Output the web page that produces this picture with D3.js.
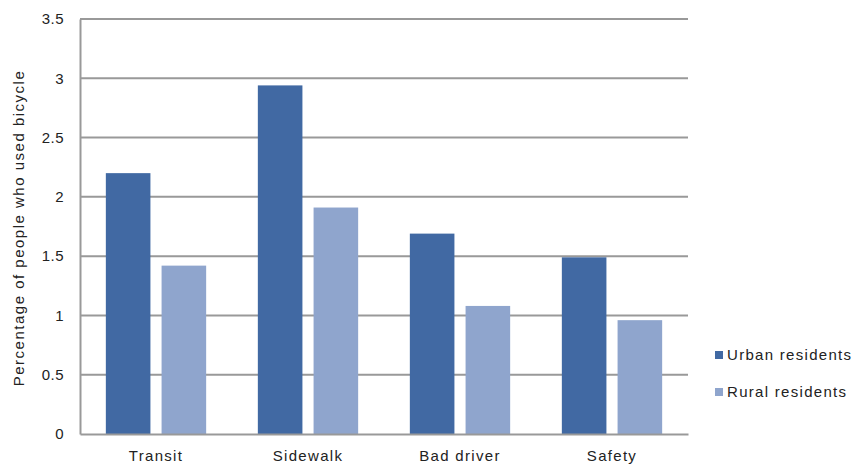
<!DOCTYPE html>
<html>
<head>
<meta charset="utf-8">
<script src="https://cdn.jsdelivr.net/npm/d3@7"></script>
<style>
  body { margin: 0; background: #fff; }
  text { font-family: "Liberation Sans", Arial, sans-serif; fill: #222; }
</style>
</head>
<body>
<div id="chart"></div>
<script>
const categories = ["Transit", "Sidewalk", "Bad driver", "Safety"];
const seriesNames = ["Urban residents", "Rural residents"];
const urban = [2.2, 2.94, 1.69, 1.49];
const rural = [1.42, 1.91, 1.08, 0.96];
const yTicks = [0, 0.5, 1, 1.5, 2, 2.5, 3, 3.5];
const colors = ["#4169a3", "#8fa5cd"];

const w = 863, h = 468;
const plotLeft = 80, plotRight = 688, plotTop = 19, plotBottom = 434;

const svg = d3.select("#chart").append("svg")
    .attr("width", w).attr("height", h);

const x = d3.scaleBand().domain(categories).range([plotLeft, plotRight]);
const xSub = d3.scaleBand().domain(seriesNames)
    .range([x.bandwidth() * 0.17, x.bandwidth() * 0.83]).paddingInner(0.2);
const y = d3.scaleLinear().domain([0, 3.5]).range([plotBottom, plotTop]);

// gridlines
svg.append("g")
    .selectAll("line")
    .data(yTicks.filter(d => d > 0))
    .enter().append("line")
    .attr("x1", plotLeft).attr("x2", plotRight)
    .attr("y1", d => y(d)).attr("y2", d => y(d))
    .attr("stroke", "#999").attr("stroke-width", 2);

// bars
const rows = categories.map((c, i) => ({ c, vals: [urban[i], rural[i]] }));
svg.append("g")
    .selectAll("g")
    .data(rows)
    .enter().append("g")
    .attr("transform", d => "translate(" + x(d.c) + ",0)")
    .selectAll("rect")
    .data(d => d.vals.map((v, j) => ({ s: seriesNames[j], v, j })))
    .enter().append("rect")
    .attr("x", d => xSub(d.s))
    .attr("width", xSub.bandwidth())
    .attr("y", d => y(d.v))
    .attr("height", d => y(0) - y(d.v))
    .attr("fill", d => colors[d.j]);

// y axis
const yAxis = d3.axisLeft(y).tickValues(yTicks).tickSize(0).tickPadding(16)
    .tickFormat(d => String(d));
const gy = svg.append("g").attr("transform", "translate(" + plotLeft + ",0)").call(yAxis);
gy.select(".domain").attr("stroke", "#999").attr("stroke-width", 2);
gy.selectAll("text").style("font-size", "15px").style("letter-spacing", "0.5px").attr("fill", "#222");

// x axis
const xAxis = d3.axisBottom(x).tickSize(0).tickPadding(16);
const gx = svg.append("g").attr("transform", "translate(0," + plotBottom + ")").call(xAxis);
gx.select(".domain").attr("stroke", "#999").attr("stroke-width", 2);
gx.selectAll("text").style("font-size", "15px").style("letter-spacing", "1.3px").attr("fill", "#222");

// y label
svg.append("text")
    .attr("transform", "translate(24," + 228 + ") rotate(-90)")
    .attr("text-anchor", "middle")
    .style("font-size", "15px")
    .style("letter-spacing", "1.5px")
    .text("Percentage of people who used bicycle");

// legend
const lg = svg.append("g").selectAll("g")
    .data(seriesNames)
    .enter().append("g")
    .attr("transform", (d, i) => "translate(715," + (355 + i * 37) + ")");
lg.append("rect").attr("x", 0).attr("y", -4).attr("width", 8).attr("height", 8)
    .attr("fill", (d, i) => colors[i]);
lg.append("text").attr("x", 12).attr("y", 5)
    .style("font-size", "15px")
    .style("letter-spacing", "1.3px")
    .text(d => d);
</script>
</body>
</html>
